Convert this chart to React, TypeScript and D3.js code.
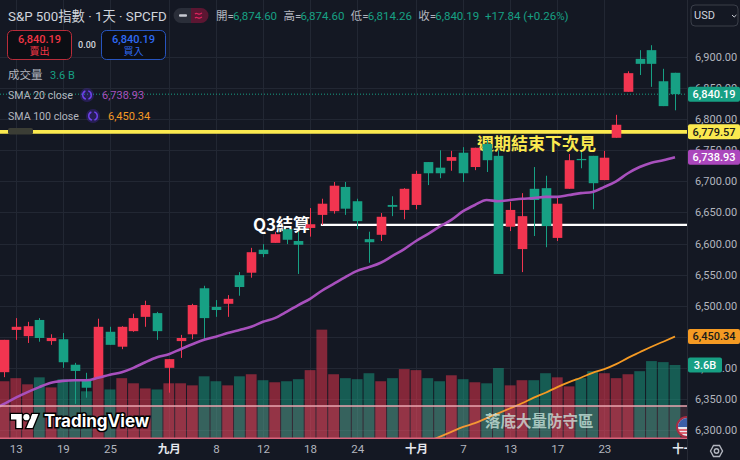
import { useEffect, useRef } from "react";
import * as d3 from "d3";

const W = 740;
const H = 460;
const FONT = "Roboto, 'Noto Sans CJK TC', sans-serif";
const CJK = "'Noto Sans CJK TC', Roboto, sans-serif";

// daily candles, S&P 500 CFD (red = up, green = down)
const opens = [6393,6461,6451,6477,6443,6446,6405,6380,6384,6458,6434,6459,6482,6488,6400,6443,6454,6528,6498,6503,6549,6553,6590,6601,6623,6604,6625,6646,6652,6691,6668,6607,6614,6662,6654,6662,6731,6722,6733,6746,6723,6760,6741,6627,6591,6688,6689,6609,6688,6736,6741,6702,6770,6844,6897,6911,6861,6874.6];
const highs = [6445,6480,6474,6480,6454,6456,6408,6392,6479,6466,6467,6487,6508,6490,6414,6453,6503,6532,6509,6517,6554,6593,6599,6619,6623,6619,6657,6672,6699,6699,6672,6619,6649,6676,6689,6717,6731,6750,6749,6755,6754,6767,6750,6667,6681,6723,6709,6676,6744,6747,6741,6749,6807,6877,6911,6919,6881,6874.6];
const lows = [6385,6445,6440,6442,6437,6400,6342,6352,6384,6437,6430,6458,6466,6445,6360,6416,6446,6445,6482,6482,6516,6545,6578,6601,6599,6551,6611,6630,6648,6646,6623,6569,6604,6644,6639,6655,6694,6705,6717,6699,6718,6715,6551,6620,6554,6612,6594,6604,6688,6721,6655,6702,6770,6844,6871,6852,6821,6814.26];
const closes = [6445,6466,6467,6448,6448,6409,6395,6368,6466,6437,6466,6480,6501,6459,6414,6448,6501,6480,6493,6511,6530,6586,6583,6615,6606,6598,6631,6664,6693,6656,6636,6602,6643,6659,6688,6712,6713,6713,6739,6713,6754,6734,6551,6654,6644,6670,6628,6664,6734,6734,6697,6738,6791,6874,6889,6889,6821,6840.19];
const volumes = [2.81,2.96,2.66,3.0,2.51,2.91,2.91,2.32,3.0,2.41,2.96,2.71,2.46,2.41,2.71,2.71,2.61,3.05,2.81,2.61,3.05,3.15,2.86,2.76,2.81,2.91,3.35,5.32,3.15,2.96,2.91,3.2,2.81,2.96,3.4,3.35,2.96,2.81,3.1,2.91,2.76,2.71,3.45,2.61,2.86,2.86,3.2,3.0,2.56,2.96,3.3,3.2,2.96,3.15,3.3,3.79,3.74,3.6];
// SMA 20 has one point left of the first whole candle so it runs off the edge
const sma20Start = -1;
const sma20 = [6332,6342,6352,6361,6369,6376,6379,6380,6380,6384,6389,6393,6400,6409,6417,6422,6430,6438,6445,6450,6456,6461,6466,6474,6480,6490,6501,6511,6524,6535,6546,6556,6562,6569,6580,6591,6604,6615,6627,6638,6652,6662,6670,6668,6670,6672,6673,6675,6675,6678,6681,6683,6691,6700,6713,6723,6730,6734,6738.93];
// SMA 100 only enters the visible range near the end of the window
const sma100Start = 36;
const sma100 = [6281,6289,6297,6305,6311,6319,6327,6335,6343,6352,6360,6369,6377,6384,6392,6398,6406,6416,6425,6434,6442,6450.34];

const priceTicks = [6900,6850,6800,6750,6700,6650,6600,6550,6500,6450,6400,6350,6300];
const hiddenPriceLabels = [6450];
const dateTickIdx = [1,5,9,14,18,22,26,30,35,39,43,47,51,57.7];
const dateTickLabels = ["13","19","25","九月","8","12","18","24","十月","7","13","17","23","十一"];
const boldDates = ["九月","十月","十一"];

const lastPrice = 6840.19;
const yellowLevel = 6779.57;
const whiteLevel = 6630;
const whiteLevelFrom = 27;

const ohlcLabels = [["開=","6,874.60"],["高=","6,874.60"],["低=","6,814.26"],["收=","6,840.19"]];

const RED = "#f23550";
const GREEN = "#17a084";
const BG = "#141823";
const GRID = "#222733";
const AXIS_TEXT = "#b2b5be";
const YELLOW = "#fbe94f";
const PANE_R = 687;
const PANE_B = 439;

export default function App() {
  const ref = useRef<SVGSVGElement | null>(null);

  useEffect(() => {
    const svg = d3.select(ref.current);
    svg.selectAll("*").remove();

    const x = d3.scaleLinear().domain([0, 57]).range([4, 675]);
    const y = d3.scaleLinear().domain([6300, 6900]).range([430, 57]);
    const vol = d3.scaleLinear().domain([0, 3.6]).range([PANE_B, 365]);
    const fmt = d3.format(",.2f");
    const idx = d3.range(closes.length);

    svg.append("rect").attr("width", W).attr("height", H).attr("fill", BG);
    const defs = svg.append("defs");
    defs.append("clipPath").attr("id", "pane").append("rect").attr("width", PANE_R).attr("height", PANE_B);
    defs.append("clipPath").attr("id", "timeaxis").append("rect").attr("width", PANE_R).attr("height", H);

    const txt = (
      g: any,
      px: number,
      py: number,
      s: string,
      size: number,
      fill: string,
      anchor = "start",
      weight = 400,
      family = FONT,
    ) =>
      g
        .append("text")
        .attr("x", px)
        .attr("y", py)
        .attr("dy", "0.35em")
        .attr("text-anchor", anchor)
        .attr("font-family", family)
        .attr("font-size", size)
        .attr("font-weight", weight)
        .attr("fill", fill)
        .text(s);

    // grid
    const grid = svg.append("g").attr("stroke", GRID).attr("stroke-width", 1);
    grid
      .selectAll("line.h")
      .data(priceTicks)
      .join("line")
      .attr("class", "h")
      .attr("x1", 0)
      .attr("x2", PANE_R)
      .attr("y1", (d) => Math.round(y(d)) + 0.5)
      .attr("y2", (d) => Math.round(y(d)) + 0.5);
    grid
      .selectAll("line.v")
      .data(dateTickIdx.slice(0, -1))
      .join("line")
      .attr("class", "v")
      .attr("y1", 0)
      .attr("y2", PANE_B)
      .attr("x1", (d) => Math.round(x(d)) + 0.5)
      .attr("x2", (d) => Math.round(x(d)) + 0.5);

    const pane = svg.append("g").attr("clip-path", "url(#pane)");

    // volume
    pane
      .append("g")
      .selectAll("rect")
      .data(idx)
      .join("rect")
      .attr("x", (i) => x(i) - 5.4)
      .attr("width", 10.8)
      .attr("y", (i) => vol(volumes[i]))
      .attr("height", (i) => PANE_B - vol(volumes[i]))
      .attr("fill", (i) => (closes[i] >= opens[i] ? RED : GREEN))
      .attr("fill-opacity", 0.5);

    // last price dotted line
    pane
      .append("line")
      .attr("x1", 0)
      .attr("x2", PANE_R)
      .attr("y1", y(lastPrice))
      .attr("y2", y(lastPrice))
      .attr("stroke", GREEN)
      .attr("stroke-width", 1)
      .attr("stroke-dasharray", "1 2");

    // drawn levels
    pane
      .append("line")
      .attr("x1", 0)
      .attr("x2", PANE_R)
      .attr("y1", y(yellowLevel))
      .attr("y2", y(yellowLevel))
      .attr("stroke", YELLOW)
      .attr("stroke-width", 3.6);
    pane
      .append("line")
      .attr("x1", x(whiteLevelFrom) - 1)
      .attr("x2", PANE_R)
      .attr("y1", y(whiteLevel))
      .attr("y2", y(whiteLevel))
      .attr("stroke", "#ffffff")
      .attr("stroke-width", 2.4);

    // annotations sit under the candles
    txt(pane, 253, 225, "Q3結算", 17, "#ffffff", "start", 700, CJK);
    txt(pane, 477, 144, "週期結束下次見", 17, YELLOW, "start", 700, CJK);

    // SMA 100
    const line100 = d3
      .line<number>()
      .x((_, i) => x(i + sma100Start))
      .y((d) => y(d))
      .curve(d3.curveMonotoneX);
    pane
      .append("path")
      .attr("d", line100(sma100))
      .attr("fill", "none")
      .attr("stroke", "#f59a23")
      .attr("stroke-width", 1.8);

    // candles
    const candles = pane.append("g");
    candles
      .selectAll("line")
      .data(idx)
      .join("line")
      .attr("x1", (i) => Math.round(x(i)) + 0.5)
      .attr("x2", (i) => Math.round(x(i)) + 0.5)
      .attr("y1", (i) => y(highs[i]))
      .attr("y2", (i) => y(lows[i]))
      .attr("stroke", (i) => (closes[i] >= opens[i] ? RED : GREEN))
      .attr("stroke-width", 1);
    candles
      .selectAll("rect")
      .data(idx)
      .join("rect")
      .attr("x", (i) => Math.round(x(i)) + 0.5 - 4.8)
      .attr("width", 9.6)
      .attr("y", (i) => y(Math.max(opens[i], closes[i])))
      .attr("height", (i) => Math.max(1, Math.abs(y(opens[i]) - y(closes[i]))))
      .attr("fill", (i) => (closes[i] >= opens[i] ? RED : GREEN));

    // SMA 20
    const line20 = d3
      .line<number>()
      .x((_, i) => x(i + sma20Start))
      .y((d) => y(d))
      .curve(d3.curveMonotoneX);
    pane
      .append("path")
      .attr("d", line20(sma20))
      .attr("fill", "none")
      .attr("stroke", "#a850bd")
      .attr("stroke-width", 2.6);

    // highlighted band over the volume foot
    pane.append("rect").attr("x", 0).attr("y", 406).attr("width", PANE_R).attr("height", 32.5).attr("fill", "#ff8a9c").attr("fill-opacity", 0.14);
    pane.append("line").attr("x1", 0).attr("x2", PANE_R).attr("y1", 406).attr("y2", 406).attr("stroke", "#eba6b0").attr("stroke-width", 1.5);
    pane.append("line").attr("x1", 0).attr("x2", PANE_R).attr("y1", 438.2).attr("y2", 438.2).attr("stroke", "#d9647c").attr("stroke-width", 1.4);

    txt(svg, 485, 422, "落底大量防守區", 15.5, "#d4efe6", "start", 700, CJK).attr("fill-opacity", 0.72);

    // watermark
    const logo = svg.append("g").attr("transform", "translate(11,411) scale(0.77)");
    logo
      .append("path")
      .attr("d", "M14 22H7V11H0V4h14v18zM28 22h-8l7.5-18h8L28 22z")
      .attr("fill", "#fff")
      .attr("stroke", "#000")
      .attr("stroke-width", 3.5)
      .attr("paint-order", "stroke");
    logo.append("circle").attr("cx", 20).attr("cy", 8).attr("r", 4).attr("fill", "#fff").attr("stroke", "#000").attr("stroke-width", 3.5).attr("paint-order", "stroke");
    txt(svg, 44, 421, "TradingView", 17, "#ffffff", "start", 700, "Inter, Roboto, sans-serif")
      .attr("stroke", "#000")
      .attr("stroke-width", 3)
      .attr("paint-order", "stroke");

    // flag bubble on the last bar
    const flag = pane.append("g");
    flag.append("circle").attr("cx", 687).attr("cy", 427).attr("r", 10).attr("fill", "#e8e8ee").attr("stroke", "#a92c42").attr("stroke-width", 2);
    flag.append("path").attr("d", "M678 427a9 9 0 0 1 9-9v9z").attr("fill", "#3b5fa8");
    flag.append("path").attr("d", "M678 430h9M679.5 433h8").attr("stroke", "#d8384a").attr("stroke-width", 1.4);

    // price axis
    const axisR = d3
      .axisRight(y)
      .tickValues(priceTicks.filter((d) => !hiddenPriceLabels.includes(d)))
      .tickFormat((d) => fmt(d as number))
      .tickSize(0)
      .tickPadding(8);
    const ay = svg.append("g").attr("transform", `translate(${PANE_R},0)`).call(axisR);
    ay.select(".domain").remove();
    ay.selectAll("text").attr("font-family", FONT).attr("font-size", 11).attr("fill", AXIS_TEXT);
    svg.append("line").attr("x1", PANE_R + 0.5).attr("x2", PANE_R + 0.5).attr("y1", 0).attr("y2", H).attr("stroke", "#262a35");

    // time axis
    const axisB = d3
      .axisBottom(x)
      .tickValues(dateTickIdx)
      .tickFormat((_, i) => dateTickLabels[i])
      .tickSize(0)
      .tickPadding(0);
    const ax = svg.append("g").attr("clip-path", "url(#timeaxis)").append("g").attr("transform", "translate(0,445)").call(axisB);
    ax.select(".domain").remove();
    ax.selectAll("text")
      .attr("font-family", FONT)
      .attr("font-size", 11.5)
      .attr("fill", (_, i) => (boldDates.includes(dateTickLabels[i]) ? "#e6e8ee" : AXIS_TEXT))
      .attr("font-weight", (_, i) => (boldDates.includes(dateTickLabels[i]) ? 700 : 400));

    // price badges
    const badge = (py: number, s: string, bg: string, fg: string, bx = 688, bw = 52) => {
      svg.append("rect").attr("x", bx).attr("y", py - 7.5).attr("width", bw).attr("height", 15).attr("rx", 2).attr("fill", bg);
      txt(svg, bx + bw / 2, py, s, 11, fg, "middle", 500);
    };
    badge(y(lastPrice), fmt(lastPrice), GREEN, "#ffffff");
    badge(y(yellowLevel), fmt(yellowLevel), YELLOW, "#1a1a1a");
    badge(y(sma20[sma20.length - 1]), fmt(sma20[sma20.length - 1]), "#ab47bc", "#ffffff");
    badge(y(sma100[sma100.length - 1]), fmt(sma100[sma100.length - 1]), "#f59a23", "#1a1a1a");
    badge(vol(volumes[volumes.length - 1]), "3.6B", GREEN, "#ffffff", 688, 34);

    // currency box
    svg.append("rect").attr("x", 691).attr("y", 5).attr("width", 47).attr("height", 21).attr("rx", 4).attr("fill", BG).attr("stroke", "#3a3e49");
    txt(svg, 694, 15.5, "USD", 11, "#d1d4dc");
    svg.append("path").attr("d", "M732 15l2.2 2 2.2-2").attr("fill", "none").attr("stroke", "#d1d4dc");

    // gear icon
    const gear = svg.append("g").attr("fill", "none").attr("stroke", AXIS_TEXT).attr("stroke-width", 1.4);
    gear.append("path").attr("d", "M710.5 451l3-5.5h6l3 5.5-3 5.5h-6z");
    gear.append("circle").attr("cx", 716.5).attr("cy", 451).attr("r", 2.2);

    // ---- legend ----
    txt(svg, 8, 16, "S&P 500指數 · 1天 · SPCFD", 13.3, "#d1d4dc");

    svg.append("path").attr("d", "M181 8h10v15h-10a7.5 7.5 0 0 1 0-15z").attr("fill", "#2a2e39");
    svg.append("path").attr("d", "M191 8h10a7.5 7.5 0 0 1 0 15h-10z").attr("fill", "#5c1632");
    svg.append("rect").attr("x", 179).attr("y", 14.3).attr("width", 8).attr("height", 2.4).attr("rx", 1).attr("fill", "#c8cad2");
    svg.append("path").attr("d", "M195 14c2-2 3 1 5 0s2-1 2-1M195 18c2-2 3 1 5 0s2-1 2-1").attr("fill", "none").attr("stroke", "#e0245e").attr("stroke-width", 1.3);

    ohlcLabels.forEach(([k, v], i) => {
      const ox = 216 + i * 67.4;
      txt(svg, ox, 16, k, 11.5, AXIS_TEXT);
      txt(svg, ox + 17, 16, v, 11.5, GREEN);
    });
    txt(svg, 485, 16, "+17.84 (+0.26%)", 11.5, GREEN);

    // sell / buy boxes
    const tradeBox = (bx: number, col: string, label: string) => {
      svg.append("rect").attr("x", bx + 0.5).attr("y", 30.5).attr("width", 64).attr("height", 29).attr("rx", 5).attr("fill", "#0c0e14").attr("stroke", col).attr("stroke-opacity", 0.75);
      txt(svg, bx + 32.5, 39, "6,840.19", 11, col, "middle", 500);
      txt(svg, bx + 32.5, 51, label, 10, col, "middle", 400, CJK);
    };
    tradeBox(7, "#f23645", "賣出");
    tradeBox(101, "#2f6bf5", "買入");
    txt(svg, 87, 44.5, "0.00", 9, "#d1d4dc", "middle", 500);

    txt(svg, 8, 75, "成交量", 11.5, AXIS_TEXT, "start", 400, CJK);
    txt(svg, 50, 75, "3.6 B", 11, GREEN);
    txt(svg, 8, 95, "SMA 20 close", 10.6, AXIS_TEXT);
    txt(svg, 102, 95, "6,738.93", 11, "#a850bd");
    txt(svg, 8, 116, "SMA 100 close", 10.6, AXIS_TEXT);
    txt(svg, 108, 116, "6,450.34", 11, "#f59a23");

    // status icons beside the SMA rows
    const spin = (cx: number, cy: number) => {
      svg.append("circle").attr("cx", cx).attr("cy", cy).attr("r", 7).attr("fill", "#5b2fd6").attr("fill-opacity", 0.28);
      const arc = d3.arc<unknown>().innerRadius(3.6).outerRadius(5);
      [[0.3, 2.8], [3.4, 5.9]].forEach(([a, b]) =>
        svg
          .append("path")
          .attr("d", arc({ startAngle: a, endAngle: b } as any) as string)
          .attr("transform", `translate(${cx},${cy})`)
          .attr("fill", "#6f42ee"),
      );
    };
    spin(87, 95);
    spin(93, 116);

    // pane collapse handle on the yellow line
    svg.append("rect").attr("x", 8).attr("y", 128).attr("width", 25).attr("height", 6.5).attr("rx", 2).attr("fill", "#3b3d35");
  }, []);

  return (
    <>
      <style>{"body{margin:0;overflow:hidden}"}</style>
      <svg ref={ref} width={W} height={H} style={{ display: "block" }} />
    </>
  );
}
